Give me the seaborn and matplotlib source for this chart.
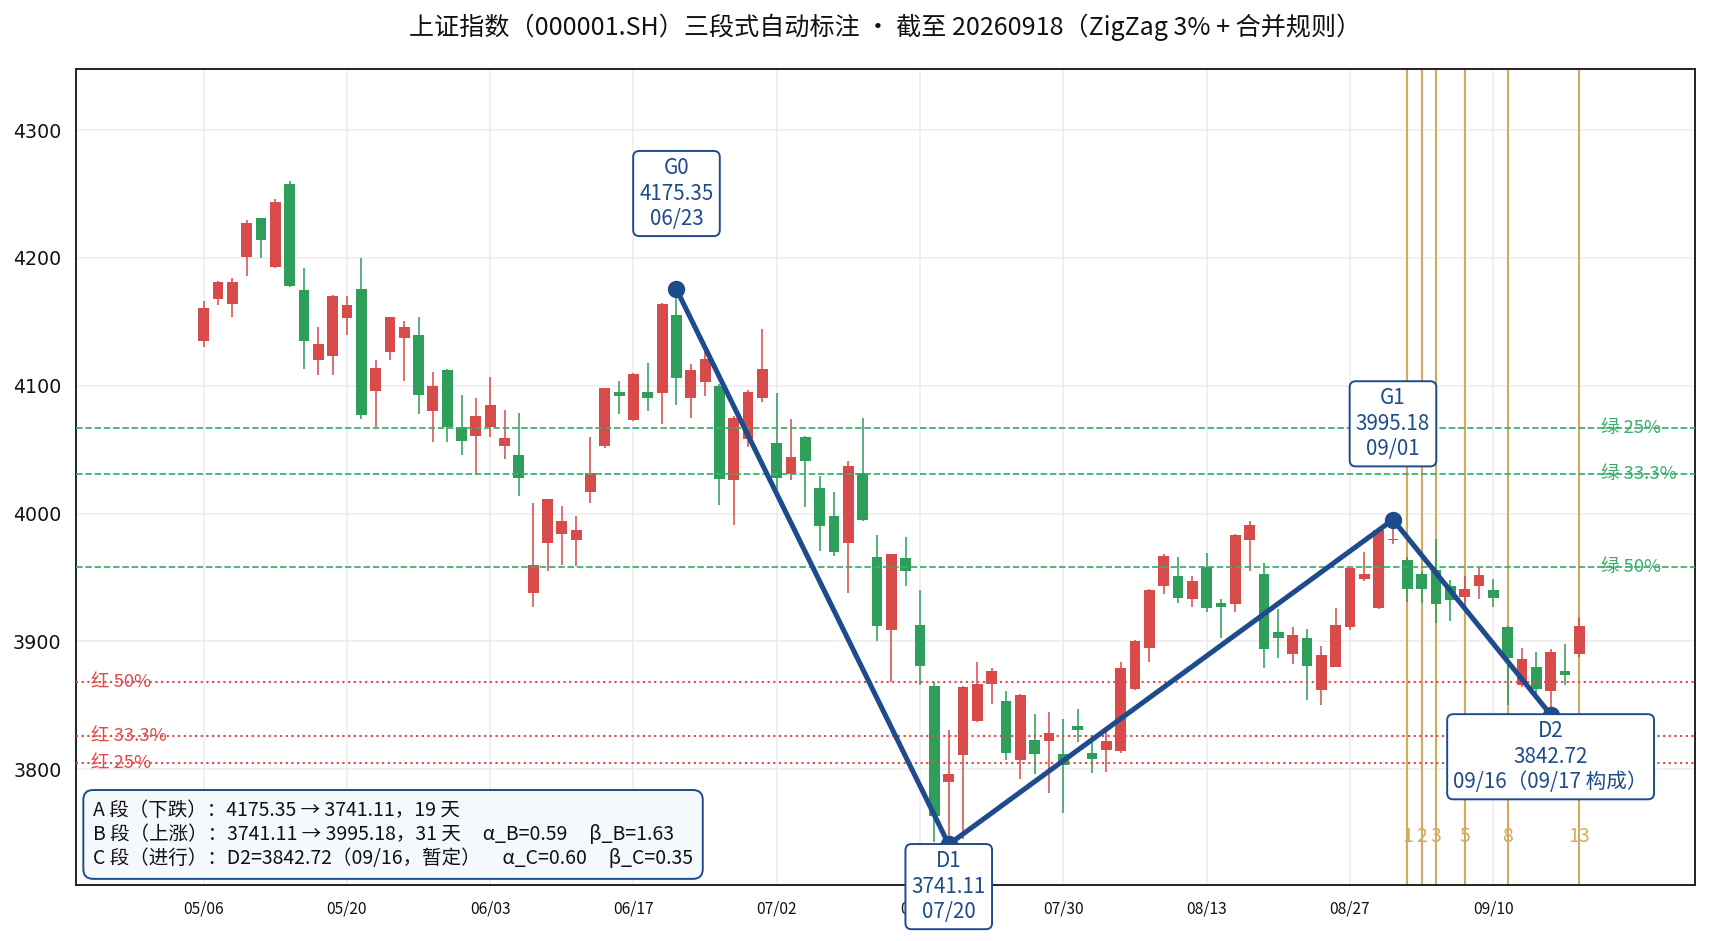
import numpy as np
import pandas as pd
import matplotlib
matplotlib.use('Agg')
import matplotlib.pyplot as plt
import matplotlib.transforms as mtransforms
import seaborn as sns

# ---- data ----
opens = [4135, 4168, 4164, 4201, 4231, 4193, 4258, 4175, 4120, 4123,
         4153, 4176, 4096, 4126, 4137, 4140, 4080, 4112, 4068, 4061,
         4068, 4053, 4046, 3938, 3977, 3984, 3979, 4017, 4053, 4095,
         4073, 4095, 4094, 4155, 4090, 4103, 4100, 4026, 4058, 4090,
         4055, 4031, 4060, 4020, 3998, 3977, 4032, 3966, 3909, 3965,
         3913, 3865, 3790, 3811, 3838, 3867, 3853, 3807, 3823, 3822,
         3812, 3834, 3813, 3815, 3814, 3863, 3895, 3943, 3951, 3933,
         3958, 3930, 3929, 3979, 3953, 3907, 3890, 3903, 3862, 3880,
         3911, 3949, 3926, 3979, 3964, 3953, 3956, 3943, 3935, 3943,
         3940, 3911, 3866, 3880, 3861, 3877, 3890]
highs = [4166, 4182, 4184, 4230, 4231, 4246, 4260, 4192, 4146, 4171,
         4170, 4200, 4120, 4154, 4151, 4154, 4111, 4113, 4093, 4090,
         4107, 4081, 4079, 4008, 4011, 4006, 3998, 4060, 4098, 4104,
         4110, 4118, 4165, 4175.35, 4117, 4128, 4101, 4076, 4097, 4144,
         4094, 4074, 4061, 4029, 4017, 4041, 4075, 3983, 3968, 3982,
         3940, 3868, 3831, 3865, 3884, 3879, 3861, 3859, 3843, 3845,
         3839, 3847, 3827, 3829, 3884, 3901, 3941, 3968, 3966, 3951,
         3969, 3933, 3984, 3994, 3961, 3925, 3911, 3910, 3896, 3926,
         3957, 3970, 3987, 3995.18, 3966, 3955, 3980, 3948, 3951, 3957,
         3949, 3912, 3895, 3892, 3894, 3898, 3919]
lows = [4130, 4163, 4154, 4186, 4200, 4192, 4177, 4113, 4108, 4108,
        4140, 4074, 4068, 4120, 4104, 4078, 4056, 4056, 4046, 4032,
        4060, 4043, 4014, 3927, 3955, 3960, 3959, 4008, 4051, 4078,
        4072, 4080, 4070, 4085, 4075, 4092, 4007, 3991, 4052, 4087,
        4019, 4026, 4005, 3971, 3967, 3938, 3994, 3900, 3868, 3943,
        3866, 3743, 3741.11, 3745, 3837, 3851, 3807, 3792, 3796, 3781,
        3766, 3821, 3797, 3798, 3813, 3862, 3884, 3937, 3930, 3927,
        3923, 3903, 3923, 3955, 3879, 3887, 3882, 3854, 3850, 3880,
        3909, 3947, 3925, 3976, 3931, 3930, 3914, 3916, 3927, 3933,
        3927, 3850, 3864, 3858, 3842.72, 3866, 3888]
closes = [4161, 4181, 4181, 4227, 4214, 4244, 4178, 4135, 4133, 4170,
          4163, 4077, 4114, 4154, 4146, 4093, 4100, 4068, 4057, 4076,
          4085, 4059, 4028, 3960, 4011, 3994, 3987, 4032, 4098, 4092,
          4109, 4090, 4164, 4106, 4112, 4121, 4027, 4075, 4095, 4113,
          4028, 4044, 4041, 3990, 3970, 4037, 3995, 3912, 3968, 3955,
          3881, 3763, 3796, 3864, 3867, 3877, 3813, 3858, 3812, 3828,
          3803, 3831, 3808, 3822, 3879, 3900, 3940, 3967, 3934, 3947,
          3926, 3927, 3983, 3991, 3894, 3903, 3905, 3881, 3889, 3913,
          3957, 3953, 3987, 3980, 3941, 3941, 3929, 3932, 3941, 3952,
          3934, 3887, 3886, 3863, 3892, 3874, 3912]

tick_pos = [0, 10, 20, 30, 40, 50, 60, 70, 80, 90]
tick_labels = ['05/06', '05/20', '06/03', '06/17', '07/02',
               '07/16', '07/30', '08/13', '08/27', '09/10']

pivot_names = ['G0', 'D1', 'G1', 'D2']
pivot_idx = [33, 52, 83, 94]
pivot_val = [4175.35, 3741.11, 3995.18, 3842.72]
pivot_dates = ['06/23', '07/20', '09/01', '09/16（09/17 构成）']

retr_pct = [0.25, 0.333, 0.5]
retr_names = ['25%', '33.3%', '50%']
fib_steps = [1, 2, 3, 5, 8, 13]

df = pd.DataFrame({'open': opens, 'high': highs, 'low': lows, 'close': closes})
df['i'] = np.arange(len(df))

# ---- style ----
sns.set_theme(style='white')
plt.rcParams['font.family'] = ['Noto Sans CJK SC', 'DejaVu Sans']
plt.rcParams['axes.unicode_minus'] = False

UP = '#d94a4a'
DOWN = '#2e9e5b'
BLUE = '#1d4b8c'
GOLD = '#d2aa60'
GREEN_LINE = '#3cae6c'
RED_LINE = '#e04a4a'

fig = plt.figure(figsize=(1709 / 140, 941 / 140), dpi=140)
ax = fig.add_axes([0.0445, 0.059, 0.9475, 0.868])

# candles
up = df['close'] >= df['open']
colors = np.where(up, UP, DOWN)
ax.vlines(df['i'], df['low'], df['high'], colors=colors, linewidth=0.8, zorder=2)
body_bot = np.minimum(df['open'], df['close'])
body_h = np.maximum((df['close'] - df['open']).abs(), 1.0)
ax.bar(df['i'], body_h, bottom=body_bot, width=0.75, color=colors, linewidth=0, zorder=2)

# fibonacci time lines after G1
g1 = pivot_idx[2]
for n in fib_steps:
    ax.axvline(g1 + n, color=GOLD, linewidth=1.1, zorder=1.5)
    ax.text(g1 + n, 3747, str(n), color=GOLD, fontsize=10, ha='center', va='center')

# retracement levels
g0, d1, g1v = pivot_val[0], pivot_val[1], pivot_val[2]
for p, nm in zip(retr_pct, retr_names):
    y = g0 - p * (g0 - d1)
    ax.axhline(y, color=GREEN_LINE, linestyle='--', linewidth=0.9, zorder=3)
    ax.text(97.5, y, '绿 ' + nm, color=GREEN_LINE, fontsize=9.5, ha='left', va='center')
left_tr = mtransforms.blended_transform_factory(ax.transAxes, ax.transData)
for p, nm in zip(retr_pct, retr_names):
    y = d1 + p * (g1v - d1)
    ax.axhline(y, color=RED_LINE, linestyle=':', linewidth=1.1, zorder=3)
    ax.text(0.009, y, '红 ' + nm, color=RED_LINE, fontsize=9.5, ha='left', va='center',
            transform=left_tr)

# zigzag
zz = pd.DataFrame({'i': pivot_idx, 'v': pivot_val})
sns.lineplot(data=zz, x='i', y='v', color=BLUE, linewidth=2.6, ax=ax, zorder=5, sort=False)
sns.scatterplot(data=zz, x='i', y='v', color=BLUE, s=80, ax=ax, zorder=6, linewidth=0)

# pivot labels
for k in range(4):
    top = pivot_names[k].startswith('G')
    ty = pivot_val[k] + 75 if top else pivot_val[k] - 33
    ax.text(pivot_idx[k], ty, f'{pivot_names[k]}\n{pivot_val[k]:.2f}\n{pivot_dates[k]}',
            color=BLUE, fontsize=10.6, ha='center', va='center', multialignment='center',
            zorder=7, bbox=dict(boxstyle='round,pad=0.3', fc='white', ec=BLUE, lw=1.0))

# summary box
d2 = pivot_val[3]
a_days = pivot_idx[1] - pivot_idx[0]
b_days = pivot_idx[2] - pivot_idx[1]
c_days = pivot_idx[3] - pivot_idx[2]
alpha_b = (g1v - d1) / (g0 - d1)
beta_b = b_days / a_days
alpha_c = (g1v - d2) / (g1v - d1)
beta_c = c_days / b_days
info = (f'A 段（下跌）：{g0:.2f} → {d1:.2f}，{a_days} 天\n'
        f'B 段（上涨）：{d1:.2f} → {g1v:.2f}，{b_days} 天     α_B={alpha_b:.2f}     β_B={beta_b:.2f}\n'
        f'C 段（进行）：D2={d2:.2f}（09/16，暂定）     α_C={alpha_c:.2f}     β_C={beta_c:.2f}')
ax.text(0.0105, 0.02, info, transform=ax.transAxes, fontsize=10, ha='left', va='bottom',
        color='#111111', zorder=8,
        bbox=dict(boxstyle='round,pad=0.5', fc='#f5f8fc', ec=BLUE, lw=1.0))

# axes
ax.set_xlim(-8.9, 104.1)
ax.set_ylim(3709, 4348)
ax.set_xticks(tick_pos)
ax.set_xticklabels(tick_labels, fontsize=8)
ax.set_yticks([3800, 3900, 4000, 4100, 4200, 4300])
for lab in ax.get_yticklabels():
    lab.set_fontfamily('DejaVu Sans')
    lab.set_fontsize(9.8)
ax.tick_params(axis='both', direction='out', length=4, width=0.8, colors='#111111')
ax.set_xlabel('')
ax.set_ylabel('')
ax.grid(True, color='#ececec', linewidth=0.8, zorder=0)
ax.set_axisbelow(True)
for s in ax.spines.values():
    s.set_color('#222222')
    s.set_linewidth(1.0)

fig.text(0.518, 0.971, '上证指数（000001.SH）三段式自动标注 · 截至 20260918（ZigZag 3% + 合并规则）',
         ha='center', va='center', fontsize=12.9, color='#111111')

plt.savefig('out.png', dpi=140)
